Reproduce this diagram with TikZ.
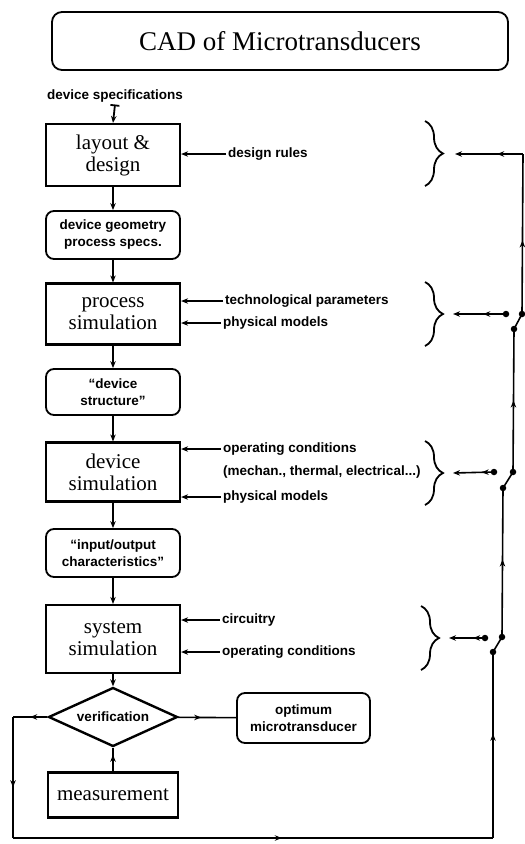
\documentclass[tikz,border=0pt]{standalone}
\usepackage{fontspec}
\newfontfamily\labelfont{Liberation Sans}
\newfontfamily\boxfont{Liberation Serif}
\usetikzlibrary{positioning, arrows.meta, shapes.geometric, decorations.pathreplacing, decorations.markings}
\tikzset{
    >={Stealth[length=7pt,width=5.5pt]}, % small sharp heads
    stepbox/.style={draw, line width=2.2pt, minimum width=134pt, align=center, inner sep=2pt, font=\boxfont\fontsize{21}{22}\selectfont},
    databox/.style={draw, line width=1.8pt, rounded corners=8pt, minimum width=134pt, minimum height=48pt, align=center, font=\labelfont\fontsize{13.5}{17}\selectfont\bfseries},
    decision/.style={draw, diamond, aspect=2.2, line width=2.4pt, minimum width=129pt, minimum height=59pt, inner sep=0pt, font=\labelfont\fontsize{13.5}{17}\selectfont\bfseries},
    lbl/.style={anchor=west, inner sep=2pt, font=\labelfont\fontsize{13.5}{17}\selectfont\bfseries},
    flow/.style={line width=1.8pt, ->},
    side/.style={line width=1.5pt, ->},
    fbk/.style={line width=1.6pt},
    midarr/.style={postaction={decorate}, decoration={markings, mark=at position #1 with {\arrow{Stealth[length=7pt,width=5.5pt]}}}},
    brc/.style={decorate, decoration={brace, amplitude=18pt}, line width=1.8pt},
    dotpt/.style={circle, fill, inner sep=0pt, minimum size=6.5pt},
}

\begin{document}
\begin{tikzpicture}[x=1pt, y=-1pt, node distance=80pt, on grid]
    \useasboundingbox (0,0) rectangle (525,844);

    \node[draw, line width=1.8pt, rounded corners=10pt, minimum width=456pt, minimum height=58pt, font=\boxfont\fontsize{27}{30}\selectfont] (title) at (280,41) {CAD of Microtransducers};

    \node[lbl, anchor=center] (spec) at (115,96) {device specifications};
    \node[stepbox, minimum height=62pt] (layout) at (113,155) {layout \&\\design};
    \node[databox, below=of layout] (geometry) {device geometry\\process specs.};
    \node[stepbox, minimum height=61pt, below=79pt of geometry] (process) {process\\simulation};
    \node[databox, minimum height=46pt, below=78pt of process] (structure) {“device\\structure”};
    \node[stepbox, minimum height=59pt, below=of structure] (device) {device\\simulation};
    \node[databox, below=81pt of device] (iochar) {“input/output\\characteristics”};
    \node[stepbox, minimum height=68pt, below=86pt of iochar] (system) {system\\simulation};
    \node[decision, below=78pt of system] (verif) {verification};
    \node[stepbox, minimum width=130pt, minimum height=45pt, below=78pt of verif] (measure) {measurement};
    \node[databox, minimum width=133pt, minimum height=50pt] (optimum) at (303.5,718) {optimum\\microtransducer};

    \draw[flow, {Bar[width=9pt]}->] (spec.south) -- (layout.north);
    \draw[flow] (layout) -- (geometry);
    \draw[flow] (geometry) -- (process);
    \draw[flow] (process) -- (structure);
    \draw[flow] (structure) -- (device);
    \draw[flow] (device) -- (iochar);
    \draw[flow] (iochar) -- (system);
    \draw[flow] (system) -- (verif);
    \draw[fbk, midarr=0.7] (measure) -- (verif);
    \draw[fbk, midarr=0.4] (verif) -- (optimum);

    \node[lbl] (rules) at (226,154) {design rules};
    \node[lbl] (techpar) at (223,301) {technological parameters};
    \node[lbl] (physA) at (221,323) {physical models};
    \node[lbl] (opcondA) at (221,449) {operating conditions};
    \node[lbl] (loads) at (221,472) {(mechan., thermal, electrical...)};
    \node[lbl] (physB) at (221,497) {physical models};
    \node[lbl] (circ) at (220,620) {circuitry};
    \node[lbl] (opcondB) at (220,652) {operating conditions};
    \foreach \l/\b in {rules/layout, techpar/process, physA/process, opcondA/device, physB/device, circ/system, opcondB/system}
        \draw[side] (\l.west) -- (\l.west -| \b.east);

    \draw[brc] (425,121) -- (425,186);
    \draw[brc] (425,282) -- (425,346);
    \draw[brc] (425,441) -- (425,505);
    \draw[brc] (421,606) -- (421,670);
    \coordinate (t1) at (455,154);
    \coordinate (t2) at (453,314);
    \coordinate (t3) at (453,473);
    \coordinate (t4) at (449,638);

    % switches
    \node[dotpt] (s4l) at (493,652) {};
    \node[dotpt] (s4u) at (502,637) {};
    \node[dotpt] (b4) at (485,638) {};
    \node[dotpt] (s3l) at (503,488) {};
    \node[dotpt] (s3u) at (513,472) {};
    \node[dotpt] (b3) at (494,472) {};
    \node[dotpt] (s2l) at (514,329) {};
    \node[dotpt] (s2u) at (522,314) {};
    \node[dotpt] (b2) at (506,314) {};
    \coordinate (lt) at (13,717);
    \coordinate (lb) at (13,838);
    \coordinate (rb) at (493,838);
    \coordinate (rt) at (523,154);

    \draw[fbk, midarr=0.5] (verif.west) -- (lt);
    \draw[fbk, midarr=0.58] (lt) -- (lb);
    \draw[fbk, midarr=0.56] (lb) -- (rb);
    \draw[fbk, midarr=0.56] (rb) -- (s4l.center);
    \draw[fbk] (s4l.center) -- (s4u.center);
    \draw[fbk, midarr=0.52] (s4u.center) -- (s3l.center);
    \draw[fbk] (s3l.center) -- (s3u.center);
    \draw[fbk, midarr=0.5] (s3u.center) -- (s2l.center);
    \draw[fbk] (s2l.center) -- (s2u.center);
    \draw[fbk, midarr=0.46] (s2u.center) -- (rt);
    \draw[fbk, ->, midarr=0.38] (rt) -- (t1);
    \draw[fbk, ->, midarr=0.43] (b2.center) -- (t2);
    \draw[fbk, ->, midarr=0.3] (b3.center) -- (t3);
    \draw[fbk, ->, midarr=0.33] (b4.center) -- (t4);
\end{tikzpicture}
\end{document}
